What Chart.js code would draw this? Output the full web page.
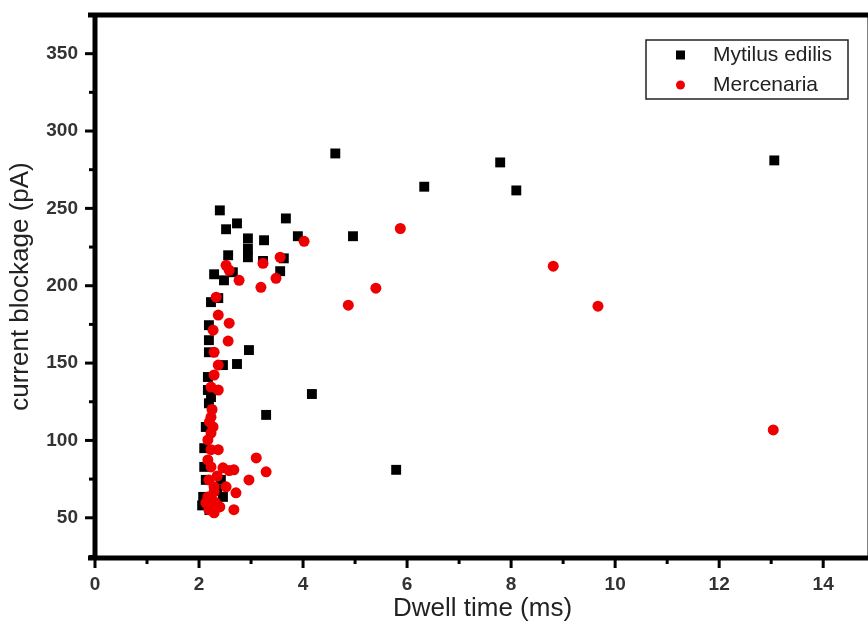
<!DOCTYPE html>
<html>
<head>
<meta charset="utf-8">
<title>Dwell time vs current blockage</title>
<script src="https://cdn.jsdelivr.net/npm/chart.js@4.4.1/dist/chart.umd.min.js"></script>
<style>
  html, body { margin: 0; padding: 0; background: #fff; overflow: hidden; }
  #wrap { position: relative; width: 880px; height: 639px; }
</style>
</head>
<body>
<div id="wrap"><canvas id="scatter"></canvas></div>
<script>
// values
const mytilusTime = [4.62, 7.79, 13.06, 6.33, 8.10, 4.96, 4.17, 5.79, 3.67, 3.90, 3.25, 3.23, 3.63, 3.56,
  2.40, 2.73, 2.52, 2.94, 2.94, 2.94, 2.56, 2.29, 2.48, 2.65, 2.37, 2.23, 2.19, 2.19, 2.19, 2.96,
  2.73, 2.46, 2.17, 2.17, 2.23, 3.29, 2.19, 2.13, 2.10, 2.13, 2.08, 2.42, 2.46, 2.06, 2.10, 2.35, 2.20];
const mytilusBlockage = [285.5, 279.7, 281, 264, 261.6, 232, 130, 81, 243.5, 232, 229.4, 216, 217.7, 209.4,
  248.7, 240.3, 236.5, 230.6, 224, 218.4, 219.7, 207.4, 203.5, 208.7, 192, 189.4, 174.5, 164.8, 157, 158.4,
  149.4, 148.7, 141, 132.6, 128, 116.5, 124, 108.7, 82.9, 74.5, 63.5, 74.5, 63.5, 58, 95, 68, 55];

const mercenariaTime = [4.02, 5.87, 8.81, 5.40, 4.87, 9.67, 13.04, 3.56, 3.23, 3.48, 3.19, 2.52, 2.58, 2.77,
  2.33, 2.37, 2.58, 2.27, 2.56, 2.29, 2.37, 2.29, 2.23, 2.37, 2.23, 2.27, 2.23, 2.17, 2.23, 2.37,
  2.17, 3.10, 3.29, 2.67, 2.46, 2.23, 2.96, 2.52, 2.71, 2.67, 2.19, 2.17, 2.19, 2.29, 2.13, 2.29,
  2.29, 2.58, 2.35, 2.25, 2.20, 2.31, 2.40];
const mercenariaBlockage = [228.7, 237, 212.6, 198.4, 187.4, 186.8, 106.8, 218.4, 214.5, 204.8, 199, 213.2, 210, 203.5,
  192.6, 181, 175.8, 171.3, 164.2, 157, 148.7, 142.3, 134.5, 132.6, 115, 108.7, 104.8, 100.3, 94, 94,
  87.4, 88.7, 79.7, 81, 82.3, 82.9, 74.5, 70, 66.1, 55.2, 74.5, 63.5, 55.2, 53.2, 59.7, 66.8,
  70, 80.5, 77, 120, 112, 60, 57];

const seriesLabels = ['Mytilus edilis', 'Mercenaria'];
const xRange = [0, 14.9];
const yRange = [24, 375];

const FONT = '"Liberation Sans", Arial, sans-serif';

const toPoints = (xs, ys) => xs.map((v, i) => ({ x: v, y: ys[i] }));

// frame, outward ticks and the boxed legend
const framePlugin = {
  id: 'framePlugin',
  afterDraw(chart) {
    const { ctx, chartArea: a, scales: { x, y } } = chart;
    ctx.save();
    ctx.strokeStyle = '#000';
    ctx.lineCap = 'butt';

    ctx.lineWidth = 3;
    x.ticks.forEach(t => {
      const px = x.getPixelForValue(t.value);
      const len = t.value % 2 === 0 ? 10 : 6;
      ctx.beginPath();
      ctx.moveTo(px, a.bottom);
      ctx.lineTo(px, a.bottom + len);
      ctx.stroke();
    });
    y.ticks.forEach(t => {
      const py = y.getPixelForValue(t.value);
      const len = t.value % 50 === 0 ? 10 : 6;
      ctx.beginPath();
      ctx.moveTo(a.left, py);
      ctx.lineTo(a.left - len, py);
      ctx.stroke();
    });

    ctx.lineWidth = 5;
    ctx.beginPath();
    ctx.moveTo(a.left - 7, a.top);
    ctx.lineTo(a.right, a.top);
    ctx.lineTo(a.right, a.bottom);
    ctx.moveTo(a.left - 7, a.bottom);
    ctx.lineTo(a.right, a.bottom);
    ctx.moveTo(a.left, a.top - 2);
    ctx.lineTo(a.left, a.bottom + 2);
    ctx.stroke();

    // legend
    const bx = a.right - 224, by = a.top + 25, bw = 202, bh = 59;
    ctx.lineWidth = 1.5;
    ctx.strokeStyle = '#222';
    ctx.fillStyle = '#fff';
    ctx.fillRect(bx, by, bw, bh);
    ctx.strokeRect(bx, by, bw, bh);
    ctx.font = '21px ' + FONT;
    ctx.textBaseline = 'middle';
    chart.data.datasets.forEach(ds => {
      const rowY = by + 15 + ds.legendRow * 30;
      ctx.fillStyle = ds.backgroundColor;
      if (ds.pointStyle === 'rect') {
        ctx.fillRect(bx + 30, rowY - 4.5, 9, 9);
      } else {
        ctx.beginPath();
        ctx.arc(bx + 34.5, rowY, 4.5, 0, Math.PI * 2);
        ctx.fill();
      }
      ctx.fillStyle = '#222';
      ctx.fillText(ds.label, bx + 67, rowY);
    });
    ctx.restore();
  }
};

new Chart(document.getElementById('scatter'), {
  type: 'scatter',
  data: {
    datasets: [
      {
        label: seriesLabels[0],
        data: toPoints(mytilusTime, mytilusBlockage),
        pointStyle: 'rect',
        pointRadius: 7,
        pointHoverRadius: 7,
        backgroundColor: '#000000',
        borderColor: '#000000',
        borderWidth: 0,
        order: 1,
        legendRow: 0
      },
      {
        label: seriesLabels[1],
        data: toPoints(mercenariaTime, mercenariaBlockage),
        pointStyle: 'circle',
        pointRadius: 5.5,
        pointHoverRadius: 5.5,
        backgroundColor: '#ee0000',
        borderColor: '#ee0000',
        borderWidth: 0,
        order: 0,
        legendRow: 1
      }
    ]
  },
  options: {
    responsive: true,
    maintainAspectRatio: false,
    animation: false,
    layout: { padding: { top: 15, right: 10, left: 0, bottom: 0 } },
    plugins: {
      legend: { display: false },
      tooltip: { enabled: false }
    },
    scales: {
      x: {
        type: 'linear',
        min: xRange[0],
        max: xRange[1],
        grid: { display: false, drawTicks: false },
        border: { display: false },
        ticks: {
          stepSize: 1,
          includeBounds: false,
          autoSkip: false,
          maxRotation: 0,
          padding: 15,
          color: '#333',
          font: { family: FONT, size: 19, weight: 'bold' },
          callback: v => (v % 2 === 0 ? v : '')
        },
        title: {
          display: true,
          text: 'Dwell time (ms)',
          color: '#222',
          font: { family: FONT, size: 26 },
          padding: { top: 0, bottom: 15 }
        },
        afterFit: s => { s.height = 81; s.paddingLeft = 0; s.paddingRight = 0; }
      },
      y: {
        type: 'linear',
        min: yRange[0],
        max: yRange[1],
        grid: { display: false, drawTicks: false },
        border: { display: false },
        ticks: {
          stepSize: 25,
          includeBounds: false,
          autoSkip: false,
          padding: 17,
          color: '#333',
          font: { family: FONT, size: 19, weight: 'bold' },
          callback: v => (v % 50 === 0 ? v : '')
        },
        title: {
          display: true,
          text: 'current blockage (pA)',
          color: '#222',
          font: { family: FONT, size: 26 },
          padding: { top: 5, bottom: 0 }
        },
        afterFit: s => { s.width = 95; s.paddingTop = 0; s.paddingBottom = 0; }
      }
    }
  },
  plugins: [framePlugin]
});
</script>
</body>
</html>
